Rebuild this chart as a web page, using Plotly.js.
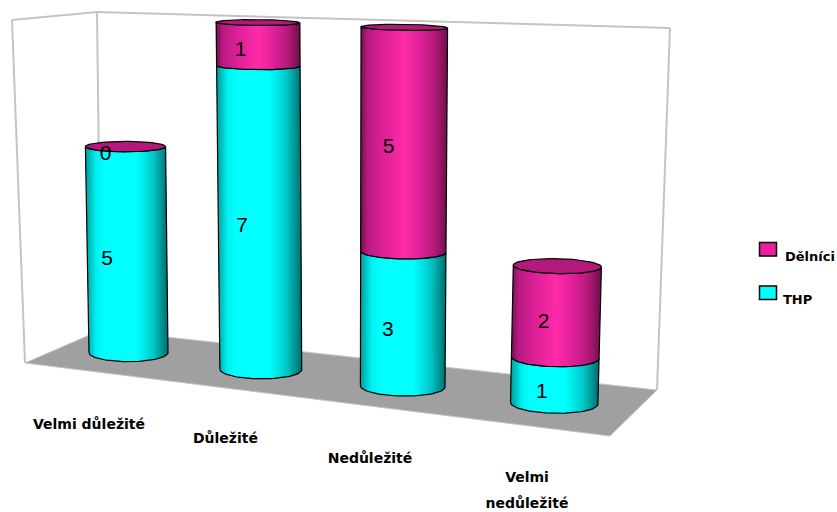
<!DOCTYPE html>
<html>
<head>
<meta charset="utf-8">
<script src="https://cdn.plot.ly/plotly-3.0.1.min.js"></script>
<style>html,body{margin:0;padding:0;background:#fff;overflow:hidden}</style>
</head>
<body>
<div id="chart" style="width:837px;height:512px"></div>
<script>
// Survey answers per importance level, stacked THP + Dělníci
const categories = ["Velmi důležité", "Důležité", "Nedůležité", "Velmi\nnedůležité"];
const thp = [5, 7, 3, 1];
const dilnici = [0, 1, 5, 2];
const seriesNames = ["THP", "Dělníci"];

const cyanShade = [[0,"#009a9a"],[0.13,"#00f0f0"],[0.22,"#00ffff"],[0.62,"#00ffff"],[0.82,"#00c8c8"],[1,"#006c6c"]];
const pinkShade = [[0,"#70104e"],[0.08,"#b81a82"],[0.25,"#dc1f96"],[0.5,"#ff2ba8"],[0.68,"#e0209a"],[0.86,"#b01a78"],[1,"#6c0f48"]];
const capPink = "#b3197a";
const swatchPink = "#ee1f9e";
const swatchCyan = "#00ffff";

// Perspective of the chart box: category index + value -> page position
const axisX = (c, v) => 128.5 + 127.5 * c + 4.8 * c * c + (-0.6 + 0.1 * c + 0.15 * c * c) * v;
const axisY = (c, v) => 352.6 + 16.9 * c - (41.2 + 2.5 * c - 0.33 * c * c) * v;
const radiusX = (c, v) => 39.5 + 1.4 * c + 0.12 * v;
const radiusY = y => 2.5 + 0.0185 * y;
const tilt = c => 0.007 * c;

function ring(c, v, from, to, n) {
  const cx = axisX(c, v), cy = axisY(c, v), a = radiusX(c, v), b = radiusY(cy);
  const xs = [], ys = [];
  for (let i = 0; i <= n; i++) {
    const t = from + (to - from) * i / n;
    const dx = a * Math.cos(t);
    xs.push(cx + dx);
    ys.push(cy + b * Math.sin(t) + tilt(c) * dx);
  }
  return [xs, ys];
}

const traces = [];
function addBody(name, c, lo, hi, shade) {
  const [bx, by] = ring(c, lo, Math.PI, 0, 48);   // lower front arc, left to right
  const [tx, ty] = ring(c, hi, 0, Math.PI, 48);   // upper front arc, right to left
  traces.push({
    type: "scatter", mode: "lines", name, showlegend: false, hoverinfo: "skip",
    x: bx.concat(tx, [bx[0]]), y: by.concat(ty, [by[0]]),
    fill: "toself",
    fillgradient: { type: "horizontal", colorscale: shade },
    line: { color: "#000", width: 1.2 }
  });
}
function addCap(c, v) {
  const [x, y] = ring(c, v, 0, 2 * Math.PI, 72);
  traces.push({
    type: "scatter", mode: "lines", name: "cap", showlegend: false, hoverinfo: "skip",
    x, y, fill: "toself", fillcolor: capPink, line: { color: "#000", width: 1.2 }
  });
}

const labelX = [], labelY = [], labelT = [];
function addLabel(c, lo, hi, value) {
  const mid = (lo + hi) / 2;
  const y = axisY(c, mid);
  labelX.push(axisX(c, mid) - 20 + 2.4 * c);
  labelY.push(y + radiusY(y) + 3);
  labelT.push(String(value));
}

categories.forEach((_, c) => {
  const a = thp[c], b = dilnici[c];
  addBody(seriesNames[0], c, 0, a, cyanShade);
  addLabel(c, 0, a, a);
  if (b > 0) addBody(seriesNames[1], c, a, a + b, pinkShade);
  addCap(c, a + b);
  addLabel(c, a, a + b, b);
});

traces.push({
  type: "scatter", mode: "text", showlegend: false, hoverinfo: "skip",
  x: labelX, y: labelY, text: labelT, textposition: "middle center",
  textfont: { family: "Liberation Sans, Arial, sans-serif", size: 21, color: "#000" }
});

// Category captions sit below the front edge of the floor
const captionCentreX = [89, 225.5, 370, 527];
const captionCentreY = [425.5, 439.5, 459.5, 478.5];
const capX = [], capY = [], capT = [];
categories.forEach((name, c) => {
  name.split("\n").forEach((line, i) => {
    capX.push(captionCentreX[c]); capY.push(captionCentreY[c] + i * 26); capT.push(line);
  });
});
traces.push({
  type: "scatter", mode: "text", showlegend: false, hoverinfo: "skip",
  x: capX, y: capY, text: capT, textposition: "middle center",
  textfont: { family: "DejaVu Sans, sans-serif", size: 14, color: "#000", weight: 700 }
});

// Legend entries, Dělníci above THP
traces.push({
  type: "scatter", mode: "text", showlegend: false, hoverinfo: "skip", cliponaxis: true,
  x: [785, 783], y: [258, 301], text: [seriesNames[1], seriesNames[0]], textposition: "middle right",
  textfont: { family: "DejaVu Sans, sans-serif", size: 13, color: "#000", weight: 700 }
});

const wall = { type: "line", layer: "below", xref: "x", yref: "y", line: { color: "#c4c4c4", width: 2 } };
const seg = (x0, y0, x1, y1) => Object.assign({}, wall, { x0, y0, x1, y1 });
const shapes = [
  seg(12, 20, 97, 12), seg(97, 12, 670, 28),
  seg(12, 20, 25, 363), seg(97, 12, 101, 330), seg(670, 28, 657, 390),
  { type: "path", layer: "below", xref: "x", yref: "y", path: "M25,363 L101,330 L657,390 L610,436 Z",
    fillcolor: "#a0a0a0", line: { color: "#c4c4c4", width: 1 } },
  { type: "rect", layer: "below", xref: "x", yref: "y", x0: 759.5, x1: 776.5, y0: 242.5, y1: 256, fillcolor: swatchPink, line: { color: "#000", width: 1.5 } },
  { type: "rect", layer: "below", xref: "x", yref: "y", x0: 759.5, x1: 776.5, y0: 286, y1: 299.5, fillcolor: swatchCyan, line: { color: "#000", width: 1.5 } }
];

Plotly.newPlot("chart", traces, {
  width: 837, height: 512,
  margin: { l: 0, r: 0, t: 0, b: 0 },
  paper_bgcolor: "#fff", plot_bgcolor: "#fff",
  showlegend: false, hovermode: false,
  xaxis: { range: [0, 837], visible: false, fixedrange: true },
  yaxis: { range: [512, 0], visible: false, fixedrange: true },
  shapes
}, { displayModeBar: false, staticPlot: true });
</script>
</body>
</html>
